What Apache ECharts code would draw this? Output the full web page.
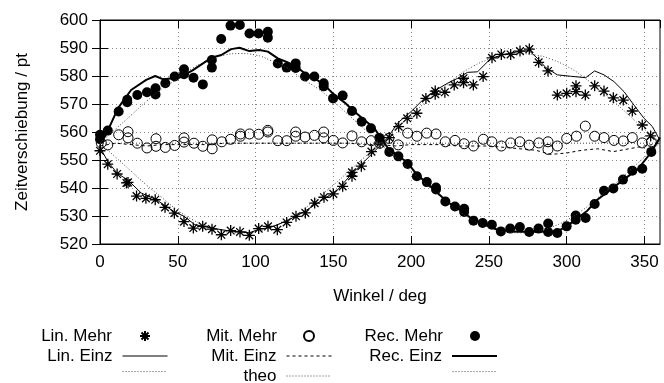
<!DOCTYPE html>
<html>
<head>
<meta charset="utf-8">
<script src="https://cdn.jsdelivr.net/npm/echarts@6/dist/echarts.min.js"></script>
<style>
  html, body { margin: 0; padding: 0; background: #fff; }
  #chart { width: 664px; height: 383px; }
</style>
</head>
<body>
<div id="chart"></div>
<script>
const linMehr = [[0,553.3],[5,548.5],[11,545],[17,541.8],[18,542],[23.5,537.1],[29.5,536.3],[35.5,535.8],
  [41.8,533.1],[47.8,531],[54,528],[60,525.7],[66,526.3],[72,525.3],[78,523.3],[84,524.8],[90,524.3],
  [96,523.1],[102,525.5],[108,526.3],[114,525.1],[120,527.7],[126,529.9],[132,531.1],[138,534.6],
  [144,536.7],[150,537.9],[156,540.6],[162,544.2],[162,545.6],[168,547.8],[174.5,553],[180,556],
  [186,558],[192,561.9],[197.5,564.9],[203.7,566.7],[209.5,572],[215.5,573.5],[215.5,574.6],
  [221.7,574.2],[227.7,576.8],[233.7,579.2],[233.7,577.6],[240,576.8],[246.3,579.8],[252,586.5],
  [258,587.7],[264,587.7],[270,588.9],[276,589.6],[282,584.9],[288,581.8],[294,573.2],[300,573.8],
  [306,576.5],[306,574.4],[312,573.2],[318,576.5],[324,574.6],[330,572.2],[336.4,571.4],[342.2,567.5],
  [348.6,562.5],[354,558.6]];

const linEinz = [[0,554.5],[5,549.5],[11,545.3],[18,542.8],[26.5,538.2],[35.7,536],[48,531.4],[54,529.9],
  [61,526.9],[71.5,525.7],[84,524.6],[96,524],[102,525.2],[110,526],[118.5,527.9],[127,530.2],
  [135.7,533.1],[144.3,536.2],[152.8,539.4],[161.4,544.8],[170,549.5],[178.5,554.3],[185,558],
  [191.3,563.2],[200,567.3],[208.5,572],[216,575],[223.4,577.4],[230,579.2],[236.3,581.3],[242.7,581.5],
  [251.3,586.3],[260,587.7],[270.6,588.9],[276,589],[281.2,586.3],[286.6,583],[294,580.4],[302.5,579.9],
  [312.2,579.4],[318,581.8],[324,580.4],[330.4,578],[336.9,574.4],[343.3,569.6],[349.7,564.9],
  [355,562],[360,557]];

const mitMehr = [[0.8,556.1],[5,555.4],[12,559],[18,560.1],[18,557.9],[24,556],[30.2,554.3],[36,554.9],
  [36,557.6],[42,554.5],[48,555.2],[54,557.9],[54,556.4],[60.4,556],[66.1,554.9],[72.1,557.2],[72.1,554],
  [78.3,556.5],[83.9,557.4],[90.3,559.3],[90.3,558.5],[96.1,559.3],[102,559.2],[107.9,560.6],[107.9,560],
  [114.3,556.9],[120,556.9],[125.8,560],[125.8,558.5],[131.8,558.2],[137.8,558.8],[143.8,560],
  [143.8,557.9],[150,557],[156,556.1],[162,558.6],[168.2,556.5],[174.4,556.9],[179.8,556],[185.7,557.7],
  [191.7,555.4],[197.8,559.6],[203.7,558.5],[210,559.6],[216,559.3],[222,556.5],[228.2,557],
  [234.1,555.8],[240.1,555],[246.4,557.4],[251.9,556.5],[258,555],[264,556.1],[269.9,556.5],
  [275.9,555.3],[282.1,556.1],[288,556.5],[288,553.8],[294,555],[300,557.7],[306.3,558.5],[312,562.1],
  [318,558.5],[324,558],[330.4,557],[336.4,556.8],[342.2,558],[348.6,556.1],[354.4,556.5]];

const mitEinz = [[0,555],[10,556],[20,555.5],[30,555],[40,555.5],[50,555.5],[60,555.5],[70,555.5],
  [80,556],[90,556],[100,556],[110,556],[120,556],[130,556],[140,556],[150,556],[160,556],[170,555.5],
  [180,555.5],[190,555],[200,555.5],[210,555.5],[220,555.5],[230,555],[240,555],[250,555],[260,554.5],
  [270,554],[280,553.5],[290,552],[300,552.5],[310,553.5],[320,554],[330,553],[340,554],[350,555],
  [360,556]];

const recMehr = [[0,559],[0,557.4],[5,560.5],[12,567.3],[17.5,570.6],[17.5,571.5],[24,573.2],[30.2,574.2],
  [35.7,575.6],[35.7,573.4],[42,577.4],[48,579.8],[54,582.4],[54,580.6],[60.1,579.4],[66.1,577],
  [71.9,585.7],[71.9,583],[77.9,593.2],[83.9,598],[89.9,598.2],[96.1,595.2],[101.9,595.2],[107.9,595.8],
  [107.9,593.7],[114.3,584.5],[120,583],[125.8,584.5],[125.8,582.9],[131.8,579.8],[137.8,579.8],
  [143.8,577.4],[143.8,576.3],[149.8,572],[156,573],[162,567.5],[168.2,563.7],[174.2,561.3],
  [179.6,557.9],[186,552.9],[191.8,551.3],[197.8,548.6],[203.7,544.2],[210.1,542.1],[216,540.2],
  [216,539.5],[222,535.2],[228.2,533.4],[234.1,532.6],[234.1,531.4],[240.1,528.3],[246,527.5],
  [251.9,526.9],[257.7,524.5],[263.7,525.5],[269.9,526.1],[275.9,524.3],[281.9,525.5],[288.1,527.3],
  [288.1,524.3],[294,523.9],[300,526.3],[305.8,530.2],[305.8,528.7],[312.2,529.3],[318,534.3],
  [324,539],[330,539.8],[336.2,543],[342.2,546.2],[348.6,546.9],[354.4,552.9]];

const recEinz = [[0,557],[3.4,558.5],[11.6,568.5],[20,575],[29.7,578.6],[35.5,580],[40.7,578.8],
  [51.4,579.5],[59.5,582],[71.5,586.5],[78,587.5],[84.3,589.6],[89.7,590.1],[96,588.9],[102.5,589.3],
  [107.9,588.7],[114.3,586.3],[120,585],[125.8,583.5],[132.5,580.6],[137.8,579.2],[143.8,577],
  [150.7,573.2],[157.1,570.6],[163.5,567.3],[170,564.3],[176.4,561.3],[185,554.3],[197.8,549],
  [203.7,544.8],[210,541.8],[217,538.2],[223.4,535],[231,532.3],[238.4,529.3],[247,526.9],
  [255.5,525.1],[268,524.4],[281,524.4],[294,524.5],[300,526.3],[307,529.3],[313.3,531.9],
  [319.7,535.8],[328.3,539.4],[336.5,543],[345.4,546.5],[354,552.5],[360,558]];

const theoLin = [[0,556],[10,551],[20,546],[30,541],[40,536.5],[50,532],[60,528.5],[70,526],[80,524.5],
  [90,524],[100,524.5],[110,526],[120,528.5],[130,532],[140,536.5],[150,541],[160,546],[170,551],
  [180,556],[190,561],[200,566],[210,571],[220,575.5],[230,580],[240,583.5],[250,586],[260,587.5],
  [270,588],[280,587.5],[290,586],[300,583.5],[310,580],[320,575.5],[330,571],[340,566],[350,561],
  [360,556]];

const theoMit = [[0,556],[360,556]];

const theoRec = [[0,556],[10,561],[20,566],[30,571],[40,575.5],[50,579],[60,583],[70,585.5],[80,587.5],
  [90,588],[100,587.5],[110,585.5],[120,583],[130,579],[140,575.5],[150,571],[160,566],[170,561],
  [180,556],[190,551],[200,546],[210,541],[220,536.5],[230,532],[240,528.5],[250,526],[260,524.5],
  [270,524],[280,524.5],[290,526],[300,528.5],[310,532],[320,536.5],[330,541],[340,546],[350,551],
  [360,556]];

const FONT = '"Liberation Sans", Arial, sans-serif';
const STAR = 'path://M5,0L5,10M0,5L10,5M1.5,1.5L8.5,8.5M1.5,8.5L8.5,1.5';

const chart = echarts.init(document.getElementById('chart'));

// eine Legende pro Eintrag, damit der Text rechtsbündig vor dem Muster steht
function legendItem(name, right, rowY, w, h, pad, lineWidth) {
  const leg = {
    data: [name],
    orient: 'vertical',
    align: 'right',
    right: right,
    top: rowY - 10,
    padding: 0,
    itemWidth: w,
    itemHeight: h,
    selectedMode: false,
    formatter: n => n.indexOf('theo_') === 0 ? '' : n,
    textStyle: { fontFamily: FONT, fontSize: 17, color: '#000', padding: [0, pad, 0, 0], lineHeight: 20 }
  };
  if (lineWidth) {
    // nur die Linie zeigen, keinen Punkt in der Mitte
    leg.itemStyle = { color: 'rgba(0,0,0,0)', borderColor: 'rgba(0,0,0,0)', borderWidth: 0, opacity: 0 };
    leg.lineStyle = { width: lineWidth };
  }
  return leg;
}

const gridLine = { show: true, lineStyle: { color: '#888', type: [1, 3], width: 1 } };
const theoStyle = { color: '#444', width: 1, type: [1, 2] };

const option = {
  animation: false,
  grid: { left: 100, right: 4, top: 20, bottom: 139, show: true, borderColor: '#000', borderWidth: 1 },
  xAxis: [{
    type: 'value', min: 0, max: 360, interval: 50,
    name: 'Winkel / deg', nameLocation: 'middle', nameGap: 44,
    nameTextStyle: { fontFamily: FONT, fontSize: 17, color: '#000' },
    axisLine: { show: true, lineStyle: { color: '#000' } },
    axisTick: { show: true, inside: true, length: 8, lineStyle: { color: '#000' } },
    axisLabel: { fontFamily: FONT, fontSize: 17, color: '#000', margin: 10, showMaxLabel: false },
    splitLine: gridLine
  }, {
    type: 'value', min: 0, max: 360, interval: 50, position: 'top',
    axisLine: { show: true, lineStyle: { color: '#000' } },
    axisTick: { show: true, inside: true, length: 8, lineStyle: { color: '#000' } },
    axisLabel: { show: false }, splitLine: { show: false }
  }],
  yAxis: [{
    type: 'value', min: 520, max: 600, interval: 10,
    name: 'Zeitverschiebung / pt', nameLocation: 'middle', nameGap: 69,
    nameTextStyle: { fontFamily: FONT, fontSize: 17, color: '#000' },
    axisLine: { show: true, lineStyle: { color: '#000' } },
    axisTick: { show: true, inside: true, length: 8, lineStyle: { color: '#000' } },
    axisLabel: { fontFamily: FONT, fontSize: 17, color: '#000', margin: 12 },
    splitLine: gridLine
  }, {
    type: 'value', min: 520, max: 600, interval: 10, position: 'right',
    axisLine: { show: true, lineStyle: { color: '#000' } },
    axisTick: { show: true, inside: true, length: 8, lineStyle: { color: '#000' } },
    axisLabel: { show: false }, splitLine: { show: false }
  }],
  legend: [
    legendItem('Lin. Mehr', 513, 336, 10, 10, 23),
    legendItem('Lin. Einz', 496, 356, 45, 14, 5, 1),
    legendItem('theo_lin', 496, 376, 45, 14, 5, 1),
    legendItem('Mit. Mehr', 349, 336, 10, 10, 22),
    legendItem('Mit. Einz', 332, 356, 45, 14, 5, 1),
    legendItem('theo', 332, 376, 45, 14, 5, 1),
    legendItem('Rec. Mehr', 184, 336, 10, 10, 22),
    legendItem('Rec. Einz', 166, 356, 45, 14, 5, 2),
    legendItem('theo_rec', 166, 376, 45, 14, 5, 1)
  ],
  series: [
    { name: 'theo_lin', type: 'line', data: theoLin, symbol: 'none', smooth: true, color: '#444',
      lineStyle: theoStyle },
    { name: 'theo', type: 'line', data: theoMit, symbol: 'none', color: '#444',
      lineStyle: theoStyle },
    { name: 'theo_rec', type: 'line', data: theoRec, symbol: 'none', smooth: true, color: '#444',
      lineStyle: theoStyle },
    { name: 'Lin. Einz', type: 'line', data: linEinz, symbol: 'none', color: '#000',
      lineStyle: { color: '#000', width: 1 } },
    { name: 'Mit. Einz', type: 'line', data: mitEinz, symbol: 'none', color: '#000',
      lineStyle: { color: '#000', width: 1, type: [3, 3] } },
    { name: 'Rec. Einz', type: 'line', data: recEinz, symbol: 'none', color: '#000',
      lineStyle: { color: '#000', width: 2 } },
    { name: 'Lin. Mehr', type: 'scatter', data: linMehr, symbol: STAR, symbolSize: 11,
      itemStyle: { color: '#000', borderColor: '#000', borderWidth: 1.3, opacity: 1 } },
    { name: 'Mit. Mehr', type: 'scatter', data: mitMehr, symbol: 'circle', symbolSize: 10,
      itemStyle: { color: 'rgba(0,0,0,0)', borderColor: '#000', borderWidth: 1, opacity: 1 } },
    { name: 'Rec. Mehr', type: 'scatter', data: recMehr, symbol: 'circle', symbolSize: 10,
      itemStyle: { color: '#000', opacity: 1 } }
  ]
};

chart.setOption(option);
</script>
</body>
</html>
